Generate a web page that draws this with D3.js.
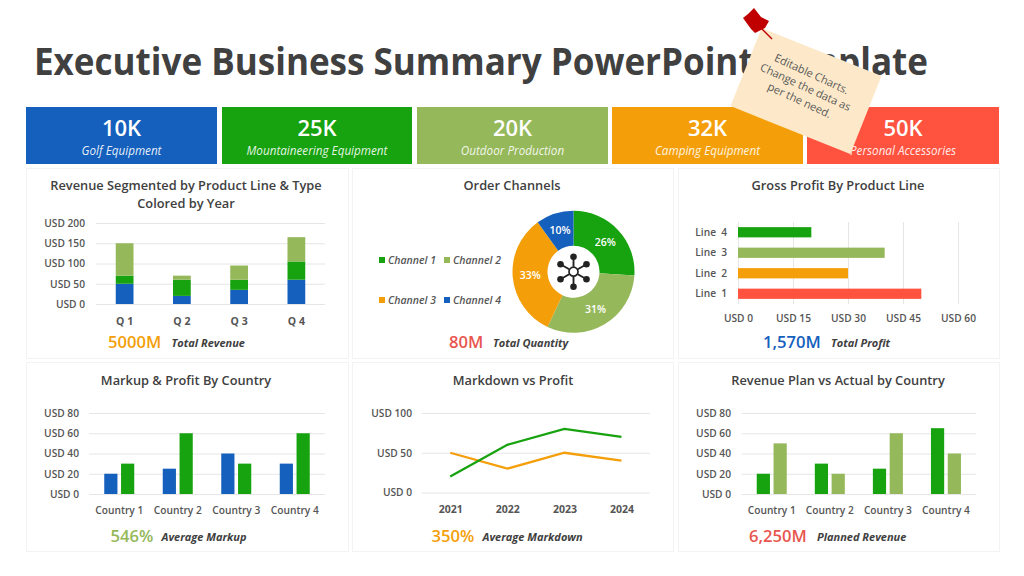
<!DOCTYPE html>
<html><head><meta charset="utf-8">
<script src="https://cdn.jsdelivr.net/npm/d3@7"></script>
<style>
html,body{margin:0;padding:0;background:#fff;overflow:hidden}
text{font-family:"Open Sans",sans-serif}
</style></head><body>
<svg id="c" width="1024" height="576" xmlns="http://www.w3.org/2000/svg"></svg>
<script>
const BLUE="#1560BD",GREEN="#17A20F",LIGHT="#95B85A",ORANGE="#F49F0A",RED="#FF5340";
const kpiValues=["10K","25K","20K","32K","50K"];
const kpiNames=["Golf Equipment","Mountaineering Equipment","Outdoor Production","Camping Equipment","Personal Accessories"];
const quarters=["Q 1","Q 2","Q 3","Q 4"];
const revA=[50,20,35,60],revB=[20,40,25,45],revC=[80,10,35,60];
const channels=["Channel 1","Channel 2","Channel 3","Channel 4"];
const channelShare=[26,31,33,10];
const lines=["Line 4","Line 3","Line 2","Line 1"];
const lineProfit=[20,40,30,50];
const countries=["Country 1","Country 2","Country 3","Country 4"];
const markup=[20,25,40,30],profit=[30,60,30,60];
const years=["2021","2022","2023","2024"];
const mdProfit=[20,60,80,70],markdown=[50,30,50,40];
const plan=[20,30,25,65],actual=[50,20,60,40];

const svg=d3.select("#c");
const TXT="#555555",DARK="#404040",GRID="#e6e6e6";
const panels=[[26,168,322,190],[352,168,321,190],[678,168,321,190],[26,362,322,189],[352,362,321,189],[678,362,321,189]];
svg.selectAll("rect.p").data(panels).join("rect").attr("class","p")
 .attr("x",d=>d[0]+.5).attr("y",d=>d[1]+.5).attr("width",d=>d[2]).attr("height",d=>d[3])
 .attr("fill","#fff").attr("stroke","#f3f3f3");

svg.append("text").attr("x",34).attr("y",75).attr("font-size",37.5).attr("font-weight",700)
 .attr("textLength",894).attr("lengthAdjust","spacingAndGlyphs")
 .attr("fill",DARK).text("Executive Business Summary PowerPoint Template");

const kpiX=[26,222,417,612,807],kpiW=[191,190,191,191,192],kpiC=[BLUE,GREEN,LIGHT,ORANGE,RED];
kpiValues.forEach((v,i)=>{
 svg.append("rect").attr("x",kpiX[i]).attr("y",107).attr("width",kpiW[i]).attr("height",57).attr("fill",kpiC[i]);
 const cx=kpiX[i]+kpiW[i]/2;
 svg.append("text").attr("x",cx).attr("y",136).attr("text-anchor","middle").attr("fill","#fff")
  .attr("font-size",22).attr("font-weight",600).text(v);
 svg.append("text").attr("x",cx).attr("y",155).attr("text-anchor","middle").attr("fill","#fff").attr("fill-opacity",.9)
  .attr("font-size",11.7).attr("font-style","italic").text(kpiNames[i]);
});

function title(lines_,cx,y){lines_.forEach((t,i)=>svg.append("text").attr("x",cx).attr("y",y+i*18)
 .attr("text-anchor","middle").attr("font-size",12.8).attr("font-weight",600).attr("fill",DARK).text(t));}
function footer(val,color,x,lx,label,y){
 svg.append("text").attr("x",x).attr("y",y).attr("font-size",16.6).attr("font-weight",600).attr("fill",color).text(val);
 svg.append("text").attr("x",lx).attr("y",y-1.5).attr("font-size",11).attr("font-weight",700).attr("font-style","italic").attr("fill",DARK).text(label);
}
function styleAxis(g){
 g.select(".domain").remove();
 g.selectAll("line").attr("stroke",GRID);
 g.selectAll("text").attr("font-size",10.2).attr("font-weight",600).attr("fill",TXT).style("font-family",'"Open Sans",sans-serif');
}
function yAxis(y,x0,x1,ticks,labelEnd){
 const g=svg.append("g").attr("transform",`translate(${x0},0)`)
  .call(d3.axisLeft(y).tickValues(ticks).tickSize(x0-x1).tickPadding(x0-labelEnd).tickFormat(d=>"USD "+d));
 styleAxis(g);g.lower();
 svg.selectAll("rect.p").lower();
 return g;
}
function xLabels(sc,yPos,weight=600,size=10.2){
 const g=svg.append("g").attr("transform",`translate(0,${yPos})`)
  .call(d3.axisBottom(sc).tickSize(0).tickPadding(0));
 styleAxis(g);
 g.selectAll("text").attr("dy",0).attr("y",0).attr("fill",TXT).attr("font-weight",weight).attr("font-size",size);
}

// Chart 1: stacked
title(["Revenue Segmented by Product Line & Type","Colored by Year"],186,190);
{
 const x=d3.scaleBand().domain(quarters).range([96,325]).paddingInner(.69).paddingOuter(.345);
 const y=d3.scaleLinear().domain([0,200]).range([304,223]);
 yAxis(y,96,325,[0,50,100,150,200],85);
 const rows=quarters.map((q,i)=>({q,a:revA[i],b:revB[i],c:revC[i]}));
 const st=d3.stack().keys(["a","b","c"])(rows);
 const col={a:BLUE,b:GREEN,c:LIGHT};
 st.forEach(s=>svg.append("g").selectAll("rect").data(s).join("rect")
  .attr("x",d=>x(d.data.q)).attr("width",x.bandwidth()).attr("y",d=>y(d[1])).attr("height",d=>y(d[0])-y(d[1])).attr("fill",col[s.key]));
 xLabels(x,324.5,700,10.5);
}
footer("5000M",ORANGE,108,171.5,"Total Revenue",348);

// Chart 2: donut
title(["Order Channels"],512,190);
{
 const cols=[GREEN,LIGHT,ORANGE,BLUE];
 const g=svg.append("g").attr("transform","translate(573.5,271.7)");
 const arcs=d3.pie().sort(null)(channelShare);
 const arc=d3.arc().innerRadius(26).outerRadius(61);
 g.selectAll("path").data(arcs).join("path").attr("d",arc).attr("fill",(d,i)=>cols[i]);
 const lab=d3.arc().innerRadius(43.5).outerRadius(43.5);
 g.selectAll("text").data(arcs).join("text").attr("transform",d=>`translate(${lab.centroid(d)})`)
  .attr("text-anchor","middle").attr("dy",".35em").attr("font-size",10.5).attr("font-weight",600).attr("fill","#fff").text(d=>d.data+"%");
 const spokeAngles=[0,60,120,180,240,300];
 const rad=d3.scaleLinear().domain([0,360]).range([0,2*Math.PI]);
 spokeAngles.forEach(a=>{
  const t=rad(a),sx=Math.sin(t),cy=-Math.cos(t);
  g.append("line").attr("x1",5*sx).attr("y1",5*cy).attr("x2",15*sx).attr("y2",15*cy).attr("stroke","#222").attr("stroke-width",1.9);
  g.append("circle").attr("cx",15*sx).attr("cy",15*cy).attr("r",3.3).attr("fill","#222");
 });
 g.append("circle").attr("r",4.5).attr("fill","#fff").attr("stroke","#222").attr("stroke-width",1.7);
 const lx=[379,444,379,444],ly=[260,260,300,300];
 channels.forEach((c,i)=>{
  svg.append("rect").attr("x",lx[i]).attr("y",ly[i]-3).attr("width",6).attr("height",6).attr("fill",cols[i]);
  svg.append("text").attr("x",lx[i]+9).attr("y",ly[i]+3.5).attr("font-size",10.5).attr("font-weight",600).attr("font-style","italic").attr("fill",TXT).text(c);
 });
}
footer("80M","#E8564F",449,493,"Total Quantity",348);

// Chart 3: horizontal bars
title(["Gross Profit By Product Line"],838,190);
{
 const x=d3.scaleLinear().domain([0,60]).range([738,958]);
 const y=d3.scaleBand().domain(lines).range([222,304]).paddingInner(.5).paddingOuter(.25);
 const g=svg.append("g").attr("transform","translate(0,304)")
  .call(d3.axisBottom(x).tickValues([0,15,30,45,60]).tickSize(-82).tickPadding(11).tickFormat(d=>"USD "+d));
 styleAxis(g);
 const cols=[GREEN,LIGHT,ORANGE,RED];
 svg.append("g").selectAll("rect").data(lineProfit).join("rect")
  .attr("x",x(0)).attr("y",(d,i)=>y(lines[i])).attr("height",y.bandwidth()).attr("width",d=>x(d)-x(0)).attr("fill",(d,i)=>cols[i]);
 const l=svg.append("g").attr("transform","translate(727,0)").call(d3.axisLeft(y).tickSize(0).tickPadding(0));
 styleAxis(l);
 l.selectAll("text").style("word-spacing","2.5px");
}
footer("1,570M",BLUE,763,831,"Total Profit",348);

function grouped(x0,x1,lab,a,b,ca,cb,cx,tt){
 title([tt],cx,385);
 const x=d3.scaleBand().domain(countries).range([x0+1,x1-1]);
 const y=d3.scaleLinear().domain([0,80]).range([494,413]);
 yAxis(y,x0,x1,[0,20,40,60,80],lab);
 const w=13.2,gap=3.6;
 svg.append("g").selectAll("rect").data(a).join("rect").attr("x",(d,i)=>x(countries[i])+x.bandwidth()/2-w-gap/2).attr("width",w)
  .attr("y",d=>y(d)).attr("height",d=>y(0)-y(d)).attr("fill",ca);
 svg.append("g").selectAll("rect").data(b).join("rect").attr("x",(d,i)=>x(countries[i])+x.bandwidth()/2+gap/2).attr("width",w)
  .attr("y",d=>y(d)).attr("height",d=>y(0)-y(d)).attr("fill",cb);
 xLabels(x,514);
}
grouped(89,325,79,markup,profit,BLUE,GREEN,186,"Markup & Profit By Country");
footer("546%",LIGHT,110.5,161.5,"Average Markup",542);

// Chart 5: lines
title(["Markdown vs Profit"],513,385);
{
 const x=d3.scalePoint().domain(years).range([421.7,650]).padding(.5);
 const y=d3.scaleLinear().domain([0,100]).range([492.5,413]);
 yAxis(y,421.7,650,[0,50,100],412);
 const ln=d3.line().x((d,i)=>x(years[i])).y(d=>y(d));
 svg.append("path").attr("d",ln(markdown)).attr("fill","none").attr("stroke",ORANGE).attr("stroke-width",2.3);
 svg.append("path").attr("d",ln(mdProfit)).attr("fill","none").attr("stroke",GREEN).attr("stroke-width",2.3);
 xLabels(x,513,700,10.5);
}
footer("350%",ORANGE,431.5,482.5,"Average Markdown",542);

grouped(741.7,976,731,plan,actual,GREEN,LIGHT,838,"Revenue Plan vs Actual by Country");
footer("6,250M","#E8564F",749,817,"Planned Revenue",542);

// Sticky note and pin
const note=svg.append("g").attr("transform","translate(806,91) rotate(21.8)");
note.append("rect").attr("x",-64.5).attr("y",-42).attr("width",129).attr("height",84).attr("fill","#FDE9C9");
const noteText=note.append("g").attr("transform","rotate(3)");
["Editable Charts.","Change the data as","per the need."].forEach((t,i)=>noteText.append("text")
 .attr("x",-2).attr("y",-14+i*14.5).attr("text-anchor","middle").attr("font-size",11).attr("fill","#595959").text(t));
const pin=svg.append("g");
pin.append("line").attr("x1",761).attr("y1",28).attr("x2",772).attr("y2",39).attr("stroke","#C00000").attr("stroke-width",1.4);
pin.append("path").attr("d",d3.line()([[754,8],[761,17],[769,21],[765,28],[755,33],[751,29],[743,18],[748,14]])).attr("fill","#C00000");
</script></body></html>
